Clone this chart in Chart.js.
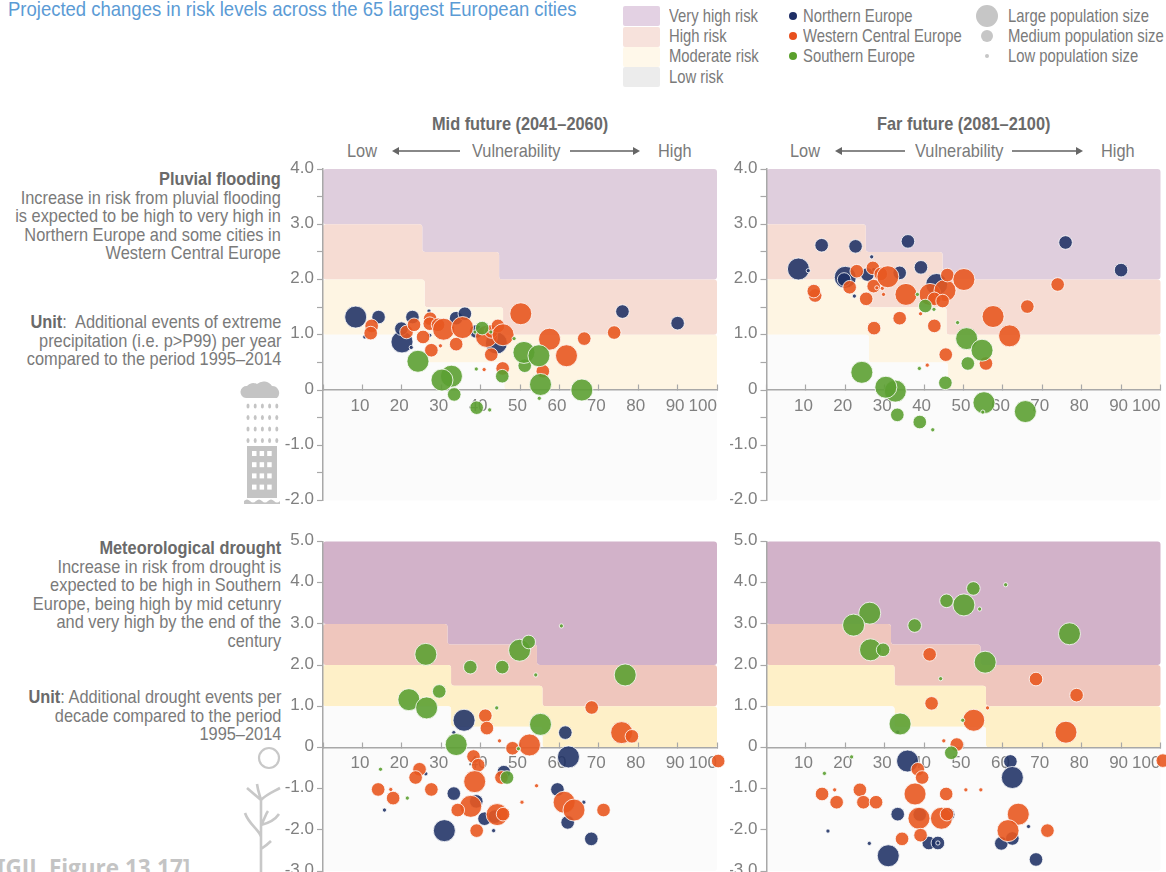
<!DOCTYPE html>
<html>
<head>
<meta charset="utf-8">
<title>Projected changes in risk levels</title>
<script src="https://cdn.jsdelivr.net/npm/chart.js@4/dist/chart.umd.min.js"></script>
<style>
  html, body { margin: 0; padding: 0; background: #fff; }
  body { position: relative; width: 1166px; height: 872px; overflow: hidden; font-family: "Liberation Sans", sans-serif; color: #7a7a7a; font-size: 19px; }
  .abs { position: absolute; white-space: nowrap; line-height: 19px; transform-origin: left top; }
  .leg { transform: scaleX(0.78); }
  .head { transform: scaleX(0.86); }
  .side { position: absolute; right: 885px; text-align: right; line-height: 18.6px; white-space: nowrap; font-size: 18.6px; transform: scaleX(0.88); transform-origin: right top; }
  .side b { color: #6a6a6a; }
  canvas { position: absolute; }
  .swatch { position: absolute; left: 623px; width: 37px; height: 20px; border-radius: 2px; }
  .dot { position: absolute; border-radius: 50%; }
  .arrow { position: absolute; height: 1.5px; background: #888; }
  .arrow:after { content: ""; position: absolute; top: -3.5px; border: 4px solid transparent; }
  .arrow.l:after { left: -5px; border-left: 0; border-right: 7px solid #666; }
  .arrow.r:after { right: -5px; border-right: 0; border-left: 7px solid #666; }
</style>
</head>
<body>

<div class="abs" style="left:8px;top:-1px;font-size:20.4px;line-height:20px;color:#5b9bd5;transform:scaleX(0.907)">Projected changes in risk levels across the 65 largest European cities</div>

<div class="swatch" style="top:6px;background:#e3d1e3"></div>
<div class="swatch" style="top:27px;background:#f7e2dc"></div>
<div class="swatch" style="top:47px;background:#fff8ea"></div>
<div class="swatch" style="top:67px;background:#ececec"></div>
<div class="abs leg" style="left:669px;top:6px">Very high risk</div>
<div class="abs leg" style="left:669px;top:26px">High risk</div>
<div class="abs leg" style="left:669px;top:46px">Moderate risk</div>
<div class="abs leg" style="left:669px;top:67px">Low risk</div>

<div class="dot" style="left:789px;top:12px;width:8px;height:8px;background:#1f2f66"></div>
<div class="dot" style="left:789px;top:32px;width:8px;height:8px;background:#e8501e"></div>
<div class="dot" style="left:789px;top:52px;width:8px;height:8px;background:#5aa02c"></div>
<div class="abs leg" style="left:803px;top:6px">Northern Europe</div>
<div class="abs leg" style="left:803px;top:26px">Western Central Europe</div>
<div class="abs leg" style="left:803px;top:46px">Southern Europe</div>

<div class="dot" style="left:976px;top:5px;width:22px;height:22px;background:#c6c6c6"></div>
<div class="dot" style="left:981px;top:30px;width:12px;height:12px;background:#c6c6c6"></div>
<div class="dot" style="left:985px;top:54px;width:4px;height:4px;background:#c6c6c6"></div>
<div class="abs leg" style="left:1008px;top:6px">Large population size</div>
<div class="abs leg" style="left:1008px;top:26px">Medium population size</div>
<div class="abs leg" style="left:1008px;top:46px">Low population size</div>

<div class="abs head" style="left:432px;top:114px;font-weight:bold;color:#6a6a6a">Mid future (2041–2060)</div>
<div class="abs head" style="left:877px;top:114px;font-weight:bold;color:#6a6a6a">Far future (2081–2100)</div>

<div class="abs head" style="left:347px;top:141px">Low</div>
<div class="arrow l" style="left:397px;top:150px;width:63px"></div>
<div class="abs head" style="left:472px;top:141px">Vulnerability</div>
<div class="arrow r" style="left:570px;top:150px;width:65px"></div>
<div class="abs head" style="left:658px;top:141px">High</div>

<div class="abs head" style="left:790px;top:141px">Low</div>
<div class="arrow l" style="left:840px;top:150px;width:65px"></div>
<div class="abs head" style="left:915px;top:141px">Vulnerability</div>
<div class="arrow r" style="left:1012px;top:150px;width:66px"></div>
<div class="abs head" style="left:1101px;top:141px">High</div>

<div class="side" style="top:170px"><b>Pluvial flooding</b><br>Increase in risk from pluvial flooding<br>is expected to be high to very high in<br>Northern Europe and some cities in<br>Western Central Europe</div>
<div class="side" style="top:313px"><b>Unit</b>:&nbsp; Additional events of extreme<br>precipitation (i.e. p&gt;P99) per year<br>compared to the period 1995–2014</div>
<div class="side" style="top:539px"><b>Meteorological drought</b><br>Increase in risk from drought is<br>expected to be high in Southern<br>Europe, being high by mid cetunry<br>and very high by the end of the<br>century</div>
<div class="side" style="top:688px"><b>Unit</b>: Additional drought events per<br>decade compared to the period<br>1995–2014</div>

<div class="abs" style="left:-2px;top:856px;font-family:'Open Sans',sans-serif;font-weight:bold;font-size:22.5px;line-height:24px;color:#c4c4c4">[GII. Figure 13.17]</div>

<!-- rain and building icon -->
<svg class="abs" style="left:240px;top:376px" width="46" height="134" fill="#c4c4c4">
  <path d="M6 22 a6 6 0 0 1 1-12 a8 8 0 0 1 10-2 a10 10 0 0 1 15 2 a7 7 0 0 1 5 12 z"/>
  <g id="drops"></g>
  <path d="M7 70 h30 v52 h-30 z"/>
  <g fill="#fff" id="windows"></g>
  <path d="M4 125 q3 -3 6 0 t6 0 t6 0 t6 0 t6 0 t6 0 v3 h-36 z"/>
</svg>

<!-- drought icon -->
<svg class="abs" style="left:235px;top:745px" width="50" height="127" fill="none" stroke="#c8c8c8" stroke-width="2.2">
  <circle cx="34" cy="13" r="10"/>
  <path stroke-width="2.6" d="M26 127 V55 M26 55 L12 43 M26 55 C24 48 23 46 22 39 M26 55 C32 49 38 47 45 43 M26 92 C25 85 14 80 10 68 M26 80 C34 78 40 75 44 69 M26 104 C32 100 34 98 36 96 M26 80 C29 76 30 70 33 66"/>
</svg>

<canvas id="pluvialMid" width="450" height="352" style="left:280px;top:160px"></canvas>
<canvas id="pluvialFar" width="436" height="352" style="left:730px;top:160px"></canvas>
<canvas id="droughtMid" width="450" height="352" style="left:280px;top:530px"></canvas>
<canvas id="droughtFar" width="436" height="352" style="left:730px;top:530px"></canvas>

<script>
// population class of a city: 0 low, 1 medium, 2 large
const populationRadius = [2.1, 6.8, 11];

// each city: [vulnerability, change in risk, population class]
const pluvialMidNorth = [[8.3,1.32,2],[14.1,1.32,1],[20.05,0.87,2],[19.9,1.11,1],[22.7,1.32,1],[33.8,1.30,1],[36,1.38,1],[26.9,1.43,0],[10.6,0.96,0],[22.4,0.77,0],[27.1,0.99,0],[44,0.85,2],[38.9,1.06,1],[76,1.42,1],[90,1.21,1]];
const pluvialMidWest = [[12.35,1.16,1],[12.1,1.03,1],[21.2,1.05,1],[23.1,1.18,1],[25.4,0.96,1],[27.2,1.29,1],[27.1,1.2,1],[28.3,1.22,0],[29.6,1.17,0],[29.2,1.18,1],[30.6,1.10,2],[35.4,1.13,2],[33.8,0.83,1],[27.5,0.72,1],[29.8,0.8,0],[40.9,0.37,0],[41.5,0.97,2],[42.7,1.06,1],[44.4,1.16,1],[45.7,1.0,2],[42.7,0.64,1],[45.6,0.39,1],[50.2,1.38,2],[55.8,0.34,1],[57.5,0.92,2],[61.8,0.62,2],[66.3,0.93,1],[73.9,1.04,1]];
const pluvialMidSouth = [[24.1,0.52,2],[32.6,0.25,2],[30.2,0.18,2],[33.3,-0.08,1],[39,-0.32,1],[38.9,0.38,0],[38.6,1.05,0],[40.4,1.12,1],[42.6,1.05,0],[42.3,-0.36,0],[48.5,0.93,0],[45.5,0.25,1],[51.2,0.44,1],[51,0.68,2],[54.8,0.62,2],[55.2,0.1,2],[54.9,-0.15,0],[65.7,0,2]];

const pluvialFarNorth = [[8.1,2.19,2],[14,2.62,1],[22.6,2.6,1],[35.9,2.69,1],[75.9,2.67,1],[90,2.17,1],[20,2.04,2],[25.6,2.09,1],[33.8,2.12,1],[39.2,2.22,1],[43.2,1.91,2],[26.7,2.41,0],[22.3,1.70,0],[10.6,2.16,0],[27.2,2.18,0],[19.7,2.0,1]];
const pluvialFarWest = [[12.35,1.71,1],[12,1.79,1],[21.1,1.86,1],[22.9,2.15,1],[25.3,1.65,1],[27,2.21,1],[27.2,1.88,1],[28,1.85,0],[29.4,1.84,0],[29.7,1.73,0],[29,2.10,1],[30.8,2.05,2],[35.4,1.73,2],[33.8,1.30,1],[27.3,1.12,1],[39.1,1.38,0],[41.5,1.73,2],[45.3,1.80,2],[42.6,1.65,1],[44.7,1.61,1],[45.9,2.08,1],[42.6,1.16,1],[45.5,0.64,1],[40.8,0.45,0],[50.1,2.0,2],[55.7,0.48,1],[57.5,1.33,2],[61.7,0.98,2],[66.2,1.51,1],[73.9,1.91,1]];
const pluvialFarSouth = [[24.2,0.32,2],[32.7,-0.02,2],[30.3,0.05,2],[33.2,-0.45,1],[38.9,-0.58,1],[38.8,0.39,0],[38.3,1.73,0],[40.3,1.52,1],[42.5,1.46,0],[42.2,-0.72,0],[48.5,1.22,0],[45.4,0.13,1],[51.1,0.48,1],[50.8,0.93,2],[54.7,0.72,2],[55.2,-0.23,2],[54.9,-0.4,0],[65.7,-0.39,2]];

const droughtMidNorth = [[35.8,0.66,2],[61.5,0.36,1],[33.2,0.36,0],[62.3,-0.23,2],[45.9,-0.6,1],[26.1,-0.64,0],[59.5,-1.02,1],[33.2,-1.12,1],[38.9,-1.31,1],[66.2,-1.33,0],[15.6,-1.52,0],[41,-1.73,1],[43.3,-2.02,0],[62.1,-1.82,1],[30.8,-2.02,2],[68.1,-2.22,1],[43.6,-1.68,1]];
const droughtMidWest = [[68.2,0.97,1],[75.8,0.36,2],[78.4,0.27,1],[41.2,0.77,1],[41.6,0.47,1],[44.8,0.16,0],[48.1,-0.02,1],[52.4,0.06,2],[38.2,-0.22,1],[39.4,-0.43,1],[24.5,-0.53,1],[23.5,-0.73,1],[45.3,-0.73,1],[38.5,-0.83,2],[54.2,-0.93,0],[14,-1.02,1],[17.2,-1.02,0],[17.8,-1.23,1],[27.5,-1.02,1],[50.5,-1.33,0],[37.5,-1.43,2],[34.2,-1.52,1],[44.2,-1.63,2],[45.7,-1.62,1],[39,-2.02,1],[61.2,-1.33,2],[63.7,-1.52,2],[71.2,-1.52,1],[100.3,-0.33,1]];
const droughtMidSouth = [[26.1,2.26,2],[21.8,1.16,2],[26.3,0.96,2],[29.5,1.36,1],[33.8,0.07,2],[37.4,1.95,1],[45.5,1.95,1],[49.9,2.36,2],[52.2,2.56,1],[60.5,2.95,0],[54,1.76,0],[76.7,1.76,2],[44.1,0.96,0],[55.2,0.56,2],[49.6,-0.03,0],[46.7,-0.73,1],[14.6,-0.53,0],[21.4,-1.23,0]];

const droughtFarNorth = [[35.8,-0.33,2],[61.9,-0.34,1],[62.4,-0.73,2],[33.3,-1.62,1],[15.6,-2.03,0],[26.1,-2.33,0],[30.9,-2.63,2],[41.2,-2.32,1],[43.5,-2.32,1],[43.5,-2.32,0],[38.9,-1.63,1],[46.1,-1.63,1],[59.6,-2.33,1],[62.4,-2.21,1],[66.5,-1.92,0],[68.4,-2.72,1],[33.3,0.37,0]];
const droughtFarWest = [[41.4,2.26,1],[68.4,1.66,1],[78.7,1.27,1],[41.9,1.07,1],[56.1,0.96,0],[52.6,0.66,2],[76,0.37,2],[45,0.16,0],[48.3,0.07,1],[100.6,-0.32,1],[38.4,-0.53,1],[39.5,-0.73,1],[37.7,-1.13,2],[45.6,-1.13,1],[50.6,-1.03,0],[54.4,-1.03,0],[14.1,-1.13,1],[17.3,-1.03,0],[17.8,-1.33,1],[23.7,-1.03,1],[24.6,-1.33,1],[27.8,-1.33,1],[38.7,-1.72,2],[44.4,-1.72,2],[45.8,-1.62,1],[63.9,-1.62,2],[61.3,-2.02,2],[71.3,-2.02,1],[39.1,-2.13,1],[34.4,-2.22,1]];
const droughtFarSouth = [[26.2,3.26,2],[22.1,2.97,2],[26.4,2.37,2],[29.6,2.37,1],[37.6,2.96,1],[45.7,3.56,1],[50.1,3.46,2],[52.5,3.86,1],[54.1,3.36,0],[60.7,3.95,0],[76.9,2.76,2],[55.5,2.07,2],[44.2,1.67,0],[33.9,0.57,2],[49.8,0.66,0],[46.9,-0.13,1],[21.6,-0.23,0],[14.7,-0.63,0]];

// risk bands: vulnerability breaks and the lower limit of each band on the three steps
const pluvialVeryHighBreaks = [25.2, 44.7];
const pluvialHighBreaks = [25.8, 45.7];
const pluvialModerateBreaks = [26, 46];
const droughtVeryHighBreaks = [31.6, 54.3];
const droughtHighBreaks = [32.5, 55.7];
const droughtModerateBreaks = [32.5, 55.7];
const veryHighLimits = [3, 2.5, 2];
const highLimits = [2, 1.5, 1];
const moderateLimits = [1, 0.5, 0];

const regionColors = ['rgba(92,160,50,0.9)', 'rgba(232,88,32,0.9)', 'rgba(30,48,100,0.88)'];

// traces a staircase: left to right along the top, back along the bottom, rounded corners
function stepPath(ctx, pts, radius) {
  const n = pts.length;
  ctx.beginPath();
  ctx.moveTo((pts[n - 1][0] + pts[0][0]) / 2, (pts[n - 1][1] + pts[0][1]) / 2);
  for (let i = 0; i < n; i++) {
    const next = pts[(i + 1) % n];
    ctx.arcTo(pts[i][0], pts[i][1], next[0], next[1], radius);
  }
  ctx.closePath();
}

function stepPoints(topXs, topEdges, bottomXs, bottomEdges) {
  const pts = [];
  topEdges.forEach((v, i) => { pts.push([topXs[i], v], [topXs[i + 1], v]); });
  for (let i = bottomEdges.length - 1; i >= 0; i--) {
    pts.push([bottomXs[i + 1], bottomEdges[i]], [bottomXs[i], bottomEdges[i]]);
  }
  return pts.filter((p, i) => {
    const prev = pts[(i + pts.length - 1) % pts.length];
    return !(prev[0] === p[0] && prev[1] === p[1]);
  });
}

const riskBands = {
  id: 'riskBands',
  beforeDraw(chart, args, opts) {
    const { ctx, scales: { x, y } } = chart;
    const top = [y.max, y.max, y.max], bottom = [y.min, y.min, y.min];
    const edges = breaks => [0, breaks[0], breaks[1], 100].map(v => x.getPixelForValue(v));
    const levels = values => values.map(v => y.getPixelForValue(v));
    const fill = (upperBreaks, upper, lowerBreaks, lower, color) => {
      const pts = stepPoints(edges(upperBreaks), levels(upper), edges(lowerBreaks), levels(lower));
      ctx.save();
      ctx.fillStyle = color;
      stepPath(ctx, pts, 3);
      ctx.fill();
      ctx.restore();
    };
    fill(opts.veryHighBreaks, top, opts.veryHighBreaks, veryHighLimits, opts.colors[0]);
    fill(opts.veryHighBreaks, veryHighLimits, opts.highBreaks, highLimits, opts.colors[1]);
    fill(opts.highBreaks, highLimits, opts.moderateBreaks, moderateLimits, opts.colors[2]);
    fill(opts.moderateBreaks, moderateLimits, opts.moderateBreaks, bottom, opts.colors[3]);
  }
};

function cityPoints(cities) {
  return cities.map(c => ({ x: c[0], y: c[1], r: populationRadius[c[2]] }));
}

function drawPanel(id, north, west, south, cfg) {
  new Chart(document.getElementById(id), {
    type: 'bubble',
    data: {
      datasets: [south, west, north].map((cities, i) => ({
        data: cityPoints(cities),
        backgroundColor: regionColors[i],
        borderColor: 'rgba(255,255,255,0.8)',
        borderWidth: 1,
        clip: false
      }))
    },
    plugins: [riskBands],
    options: {
      responsive: false,
      animation: false,
      events: [],
      layout: {
        autoPadding: false,
        padding: { left: cfg.left, top: cfg.top, right: cfg.right, bottom: cfg.bottom }
      },
      plugins: {
        legend: { display: false },
        tooltip: { enabled: false },
        riskBands: cfg.bands
      },
      scales: {
        x: {
          type: 'linear',
          min: 0,
          max: 100,
          position: { y: 0 },
          afterFit(scale) { scale.paddingLeft = 0; scale.paddingRight = 0; },
          border: { color: '#a8a8a8', width: 1.5 },
          grid: { drawOnChartArea: false, tickLength: -6, color: '#a8a8a8', tickWidth: 1.2 },
          ticks: {
            stepSize: 10,
            autoSkip: false,
            maxRotation: 0,
            labelOffset: -2.5,
            padding: 12,
            color: '#808080',
            font: { family: 'Liberation Sans', size: 17 },
            callback: v => (v === 0 ? '' : v === 100 ? '100     ' : String(v))
          }
        },
        y: {
          min: cfg.yMin,
          max: cfg.yMax,
          afterFit(scale) { scale.width = 43; scale.paddingTop = 0; scale.paddingBottom = 0; },
          border: { color: '#a8a8a8', width: 1.5 },
          grid: { drawOnChartArea: false, tickLength: 6, color: '#a8a8a8', tickWidth: 1.2 },
          ticks: {
            stepSize: cfg.yStep,
            autoSkip: false,
            padding: 3,
            labelOffset: -1,
            color: '#808080',
            font: { family: 'Liberation Sans', size: 17 },
            callback: v => (Number.isInteger(v) ? (v === 0 ? '0' : v.toFixed(1)) : '')
          }
        }
      }
    }
  });
}

const pluvialColors = ['#dfcedd', '#f6dcd3', '#fef5e3', '#fbfbfb'];
const droughtColors = ['#d2b2c9', '#efc6bd', '#fef0c8', '#fbfbfb'];
const pluvialBands = { veryHighBreaks: pluvialVeryHighBreaks, highBreaks: pluvialHighBreaks, moderateBreaks: pluvialModerateBreaks, colors: pluvialColors };
const droughtBands = { veryHighBreaks: droughtVeryHighBreaks, highBreaks: droughtHighBreaks, moderateBreaks: droughtModerateBreaks, colors: droughtColors };

drawPanel('pluvialMid', pluvialMidNorth, pluvialMidWest, pluvialMidSouth, { left: 0, top: 9, right: 13, bottom: 11.5, yMin: -2, yMax: 4, yStep: 0.5, bands: pluvialBands });
drawPanel('pluvialFar', pluvialFarNorth, pluvialFarWest, pluvialFarSouth, { left: -6.5, top: 9, right: 5.5, bottom: 11.5, yMin: -2, yMax: 4, yStep: 0.5, bands: pluvialBands });
drawPanel('droughtMid', droughtMidNorth, droughtMidWest, droughtMidSouth, { left: 0, top: 11.5, right: 13, bottom: 11, yMin: -3, yMax: 5, yStep: 1, bands: droughtBands });
drawPanel('droughtFar', droughtFarNorth, droughtFarWest, droughtFarSouth, { left: -6.5, top: 11.5, right: 5.5, bottom: 11, yMin: -3, yMax: 5, yStep: 1, bands: droughtBands });

// icon details
const svgNs = 'http://www.w3.org/2000/svg';
const drops = document.getElementById('drops');
for (let row = 0; row < 4; row++) {
  for (let col = 0; col < 5; col++) {
    const d = document.createElementNS(svgNs, 'ellipse');
    d.setAttribute('cx', 8 + col * 7.2);
    d.setAttribute('cy', 30 + row * 11.5);
    d.setAttribute('rx', 1.5);
    d.setAttribute('ry', 2.6);
    drops.appendChild(d);
  }
}
const windows = document.getElementById('windows');
for (let row = 0; row < 4; row++) {
  for (let col = 0; col < 3; col++) {
    const w = document.createElementNS(svgNs, 'rect');
    w.setAttribute('x', 12 + col * 7.6);
    w.setAttribute('y', 75 + row * 11.2);
    w.setAttribute('width', 4.5);
    w.setAttribute('height', 5);
    windows.appendChild(w);
  }
}
</script>
</body>
</html>
